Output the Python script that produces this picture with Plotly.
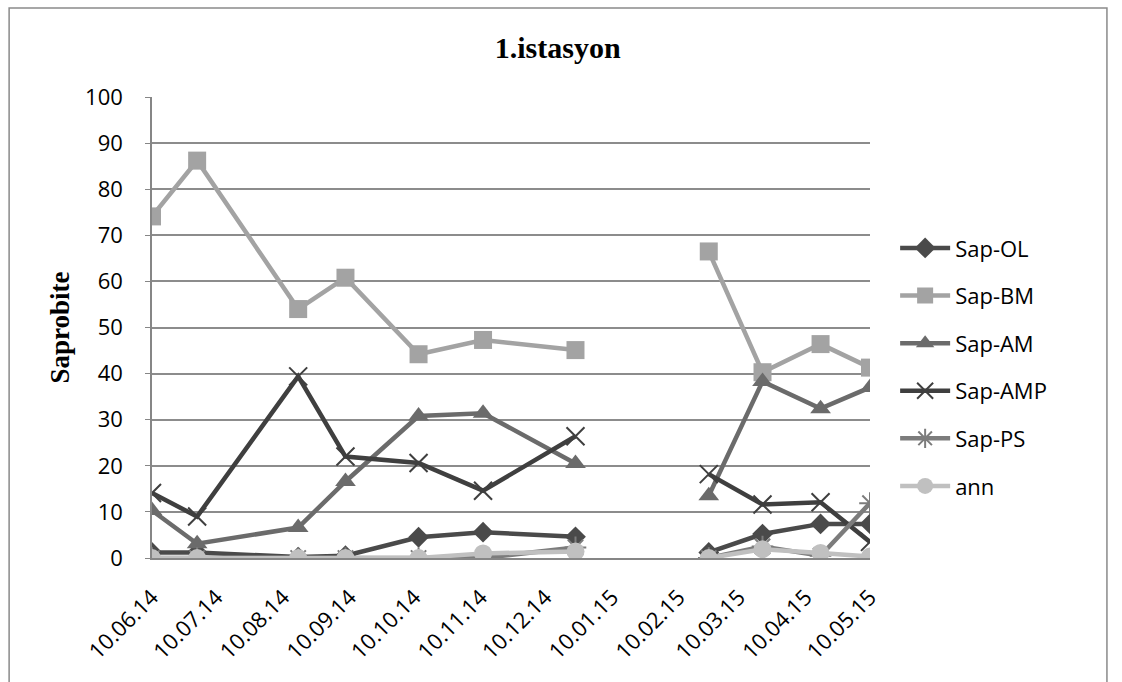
import plotly.graph_objects as go

# Sampling dates (the blank entry in January keeps the two campaigns apart)
dates = ["2014-06-10", "2014-07-01", "2014-08-17", "2014-09-08", "2014-10-12",
         "2014-11-11", "2014-12-24", "2015-01-24", "2015-02-24", "2015-03-21",
         "2015-04-17", "2015-05-10"]

sap_ol = [1.2, 1.2, 0.2, 0.5, 4.5, 5.6, 4.6, None, 1.2, 5.2, 7.4, 7.4]
sap_bm = [74.1, 86.2, 54.0, 60.8, 44.2, 47.3, 45.1, None, 66.5, 40.3, 46.4, 41.3]
sap_am = [10.3, 3.1, 6.6, 16.6, 30.8, 31.4, 20.5, None, 13.5, 38.3, 32.4, 37.0]
sap_amp = [14.1, 9.0, 39.4, 22.0, 20.6, 14.6, 26.4, None, 18.2, 11.6, 12.1, 3.5]
sap_ps = [0.0, 0.0, 0.0, 0.0, 0.0, 0.0, 2.3, None, 0.0, 2.5, 0.5, 11.9]
ann = [0.0, 0.0, 0.0, 0.0, 0.0, 1.0, 1.4, None, 0.0, 1.9, 1.1, 0.3]

# Monthly tick dates and their labels
tick_dates = ["2014-06-10", "2014-07-10", "2014-08-10", "2014-09-10", "2014-10-10",
              "2014-11-10", "2014-12-10", "2015-01-10", "2015-02-10", "2015-03-10",
              "2015-04-10", "2015-05-10"]
tick_labels = ["10.06.14", "10.07.14", "10.08.14", "10.09.14", "10.10.14", "10.11.14",
               "10.12.14", "10.01.15", "10.02.15", "10.03.15", "10.04.15", "10.05.15"]

series = [
    ("Sap-OL", sap_ol, "#4a4a4a", dict(symbol="diamond", size=16)),
    ("Sap-BM", sap_bm, "#a3a3a3", dict(symbol="square", size=18)),
    ("Sap-AM", sap_am, "#6b6b6b", dict(symbol="triangle-up", size=18)),
    ("Sap-AMP", sap_amp, "#3f3f3f",
     dict(symbol="x-thin-open", size=18, line=dict(width=2, color="#3f3f3f"))),
    ("Sap-PS", sap_ps, "#7c7c7c",
     dict(symbol="asterisk-open", size=18, line=dict(width=2, color="#7c7c7c"))),
    ("ann", ann, "#c0c0c0", dict(symbol="circle", size=18)),
]

fig = go.Figure()
for name, vals, color, marker in series:
    m = dict(color=color, **marker)
    fig.add_trace(go.Scatter(
        x=dates, y=vals, name=name, mode="lines+markers",
        line=dict(color=color, width=4.5), marker=m,
        connectgaps=False, legendgroup=name,
    ))

TXT = "Open Sans"

fig.update_layout(
    width=1122, height=682,
    margin=dict(l=152, r=252, t=97, b=124),
    paper_bgcolor="white", plot_bgcolor="white",
    title=dict(text="<b>1.istasyon</b>", x=0.497, xref="container", xanchor="center",
               y=0.93, yanchor="middle",
               font=dict(family="Liberation Serif", size=30, color="#000")),
    font=dict(family=TXT, size=22, color="#000"),
    legend=dict(x=1.035, y=0.414, xanchor="left", yanchor="middle",
                font=dict(family=TXT, size=22, color="#000"),
                tracegroupgap=16, itemwidth=50, bgcolor="rgba(0,0,0,0)"),
    showlegend=True,
)

fig.update_xaxes(
    type="date", range=["2014-06-10", "2015-05-10"],
    tickmode="array", tickvals=tick_dates, ticktext=tick_labels,
    tickangle=-45, showgrid=False, showline=True, linecolor="#868686",
    linewidth=1.5, ticks="", zeroline=False, ticklabelstandoff=16,
    tickfont=dict(family=TXT, size=22, color="#000"),
)
fig.update_yaxes(
    range=[0, 100], dtick=10, showgrid=True, gridcolor="#8c8c8c", gridwidth=1.5,
    showline=True, linecolor="#868686", linewidth=1.5, ticks="outside",
    ticklen=5, tickcolor="#868686", zeroline=False, ticklabelstandoff=18,
    tickfont=dict(family=TXT, size=22, color="#000"),
    title=dict(text="<b>Saprobite</b>", standoff=8,
               font=dict(family="Liberation Serif", size=27, color="#000")),
)

# Chart frame
fig.add_shape(type="rect", xref="paper", yref="paper",
              x0=-0.199, x1=1.33, y0=-0.35, y1=1.193,
              line=dict(color="#8a8a8a", width=1.5), layer="below")

fig.write_html("out.html")
